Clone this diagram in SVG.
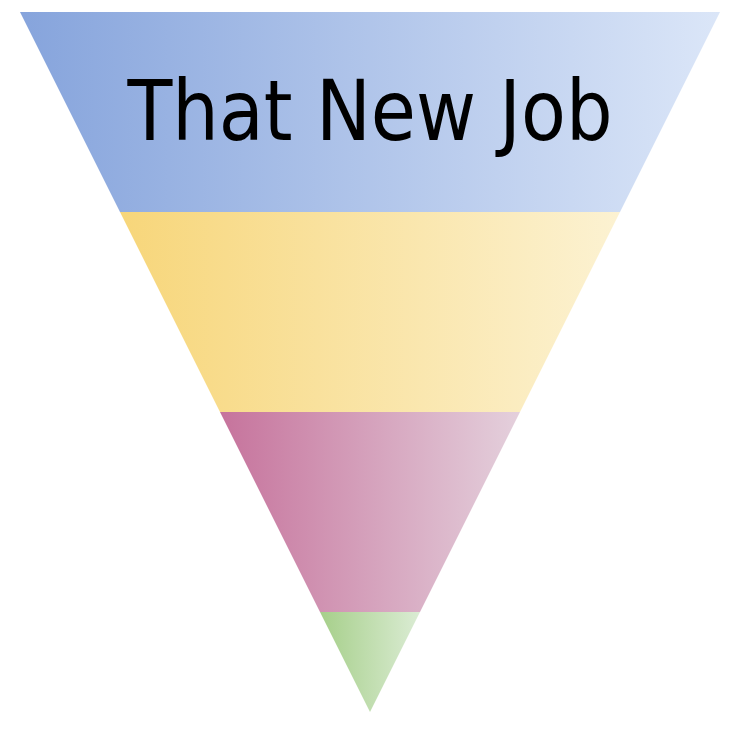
<svg xmlns="http://www.w3.org/2000/svg" width="738" height="736" viewBox="0 0 738 736">
<defs>
<linearGradient id="gBlue" x1="0" y1="0" x2="1" y2="0"><stop offset="0" stop-color="#86a4dc"/><stop offset="1" stop-color="#dbe6f8"/></linearGradient>
<linearGradient id="gYellow" x1="0" y1="0" x2="1" y2="0"><stop offset="0" stop-color="#f7d67a"/><stop offset="1" stop-color="#fcf2d2"/></linearGradient>
<linearGradient id="gPink" x1="0" y1="0" x2="1" y2="0"><stop offset="0" stop-color="#c6739c"/><stop offset="1" stop-color="#e4d0dc"/></linearGradient>
<linearGradient id="gGreen" x1="0" y1="0" x2="1" y2="0"><stop offset="0" stop-color="#a6cf8a"/><stop offset="1" stop-color="#dbecd4"/></linearGradient>
<style>.lbl{font-family:"DejaVu Sans","Liberation Sans",sans-serif;font-size:84px;fill:#000}</style>
</defs>
<rect width="738" height="736" fill="#fff"/>
<g id="band1"><polygon points="20,12 720,12 620,212 120,212" fill="url(#gBlue)"/>
<text class="lbl" x="370" y="140" text-anchor="middle" textLength="485" lengthAdjust="spacingAndGlyphs">That New Job</text></g>
<g id="band2"><polygon points="120,212 620,212 520,412 220,412" fill="url(#gYellow)"/></g>
<g id="band3"><polygon points="220,412 520,412 420,612 320,612" fill="url(#gPink)"/></g>
<g id="band4"><polygon points="320,612 420,612 370,712" fill="url(#gGreen)"/></g>
<g id="connectors"/>
</svg>
